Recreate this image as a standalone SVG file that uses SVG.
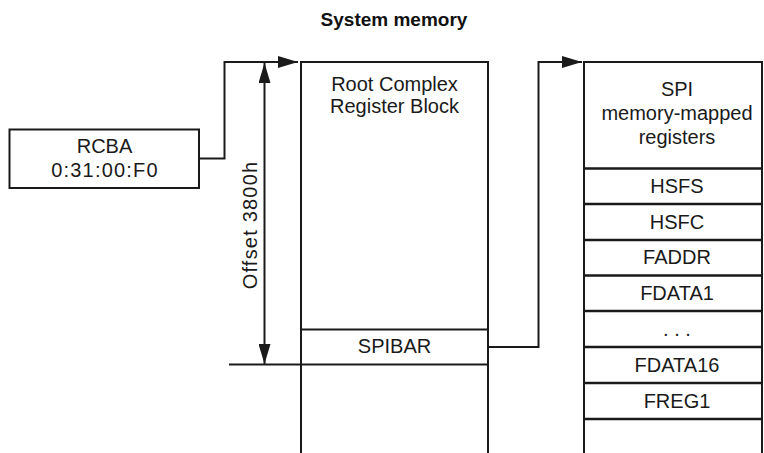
<svg xmlns="http://www.w3.org/2000/svg" width="764" height="453" viewBox="0 0 764 453">
<style>
.t{font-family:"Liberation Sans",Arial,sans-serif;font-size:20px;fill:#1a1a1a;text-anchor:middle}
.title{font-family:"Liberation Sans",Arial,sans-serif;font-size:19px;font-weight:bold;fill:#111;text-anchor:middle}
.ln{stroke:#1a1a1a;stroke-width:2;fill:none}
.row{stroke:#1a1a1a;stroke-width:2.6;fill:none}
</style>
<defs>
<marker id="arr" viewBox="0 0 20 12" refX="20" refY="6" markerWidth="20" markerHeight="12" markerUnits="userSpaceOnUse" orient="auto-start-reverse">
<path d="M0,0 L20,6 L0,12 z" fill="#1a1a1a"/>
</marker>
</defs>
<rect width="764" height="453" fill="#fff"/>
<text class="title" x="394" y="26">System memory</text>

<g id="rcba">
<rect class="ln" x="9.5" y="129.5" width="189.5" height="58.5"/>
<text class="t" x="104.5" y="152.5">RCBA</text>
<text class="t" x="105" y="176.5" letter-spacing="1.2">0:31:00:F0</text>
</g>

<g id="root-complex">
<path class="ln" d="M301,453 V62 H488 V453"/>
<text class="t" x="394.5" y="91">Root Complex</text>
<text class="t" x="394.5" y="113">Register Block</text>
<path class="ln" d="M301,329.5 H488"/>
<path class="ln" d="M229,364.5 H488"/>
<text class="t" x="394.5" y="353">SPIBAR</text>
</g>

<g id="spi-registers">
<path class="ln" d="M584,453 V62 H762 V453"/>
<text class="t" x="677" y="96">SPI</text>
<text class="t" x="677" y="120">memory-mapped</text>
<text class="t" x="677" y="144">registers</text>
<path class="row" d="M584,168.5 H762 M584,204 H762 M584,240 H762 M584,275.5 H762 M584,311 H762 M584,347 H762 M584,383 H762 M584,419 H762"/>
<text class="t" x="677" y="193">HSFS</text>
<text class="t" x="677" y="229">HSFC</text>
<text class="t" x="677" y="264">FADDR</text>
<text class="t" x="677" y="300">FDATA1</text>
<text class="t" x="677" y="336">. . .</text>
<text class="t" x="677" y="372">FDATA16</text>
<text class="t" x="677" y="408">FREG1</text>
</g>

<g id="offset">
<path class="ln" d="M264.5,63 V364" marker-start="url(#arr)" marker-end="url(#arr)"/>
<text class="t" font-size="22" letter-spacing="1.2" transform="translate(256.5,225) rotate(-90)">Offset 3800h</text>
</g>

<g id="connectors">
<path class="ln" d="M199,158.5 H224.5 V62 H298" marker-end="url(#arr)"/>
<path class="ln" d="M488,347 H538.5 V62 H582" marker-end="url(#arr)"/>
</g>
</svg>
